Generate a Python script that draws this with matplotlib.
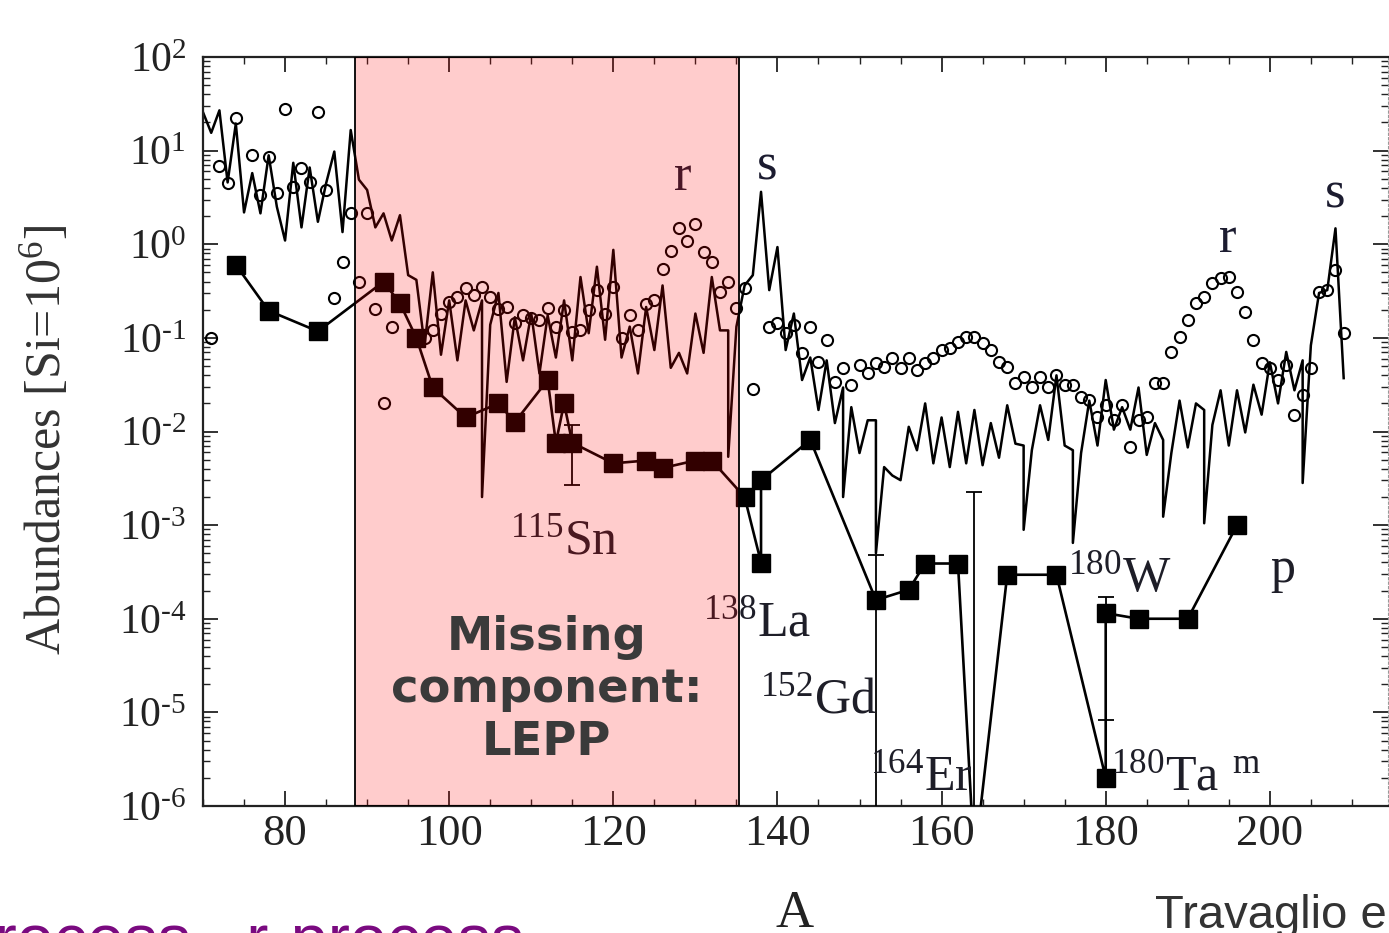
import numpy as np
import matplotlib
matplotlib.use("Agg")
import matplotlib.pyplot as plt
from matplotlib.ticker import MultipleLocator, LogLocator, FixedLocator, FuncFormatter, NullFormatter

plt.rcParams['font.family'] = ['Liberation Serif', 'DejaVu Serif']
plt.rcParams['mathtext.fontset'] = 'custom'
plt.rcParams['mathtext.rm'] = 'Liberation Serif'
plt.rcParams['mathtext.it'] = 'Liberation Serif:italic'
plt.rcParams['mathtext.bf'] = 'Liberation Serif:bold'

# s-process contribution (solid line), log10 of abundance, Si = 1e6
# where two isobars share one A the line drops straight down to the second one
s_A = [70, 71, 72, 73, 74, 75, 76, 77, 78, 79, 80, 81, 82, 83, 84, 85, 86, 87, 88, 89,
       90, 91, 92, 93, 94, 95, 96, 97, 98, 99, 100, 101, 102, 103, 104, 104, 105, 106, 107, 108,
       109, 110, 111, 112, 113, 114, 115, 116, 117, 118, 119, 120, 121, 122, 123, 124, 125, 126, 127, 128,
       129, 130, 131, 132, 133, 134, 134, 135, 136, 137, 138, 139, 140, 141, 142, 143, 144, 145, 146, 147,
       148, 148, 149, 150, 151, 152, 152, 153, 154, 155, 156, 157, 158, 159, 160, 161, 162, 163, 164, 165,
       166, 167, 168, 169, 170, 170, 171, 172, 173, 174, 175, 176, 176, 177, 178, 179, 180, 181, 182, 183,
       184, 185, 186, 187, 187, 188, 189, 190, 191, 192, 192, 193, 194, 195, 196, 197, 198, 199, 200, 201,
       202, 203, 204, 204, 205, 206, 207, 208, 209]
s_log = [1.41, 1.19, 1.43, 0.66, 1.29, 0.34, 0.76, 0.33, 0.95, 0.40, 0.04, 0.87, 0.18, 0.82, 0.24, 0.65, 0.99, 0.13, 1.22, 0.69,
         0.58, 0.18, 0.33, 0.04, 0.31, -0.33, -0.38, -1.08, -0.30, -1.18, -0.60, -1.24, -0.60, -0.92, -0.60, -2.70, -0.86, -0.52, -1.47, -0.78,
         -1.24, -0.74, -1.38, -0.76, -1.21, -0.60, -1.24, -0.35, -0.95, -0.24, -1.02, -0.06, -1.21, -0.88, -1.38, -0.67, -1.13, -0.44, -1.32, -1.16,
         -1.38, -0.74, -1.16, -0.35, -0.92, -0.92, -2.27, -0.88, -0.44, -0.33, 0.56, -0.49, -0.03, -1.13, -0.74, -1.45, -1.21, -1.77, -1.24, -1.91,
         -1.53, -2.70, -1.74, -2.23, -1.88, -1.88, -3.30, -2.38, -2.47, -2.52, -1.95, -2.20, -1.70, -2.34, -1.85, -2.38, -1.79, -2.34, -1.77, -2.36,
         -1.91, -2.28, -1.72, -2.13, -2.15, -3.05, -2.20, -1.72, -2.09, -1.40, -2.15, -2.20, -3.19, -2.23, -1.67, -2.15, -1.45, -1.98, -1.74, -1.98,
         -1.53, -2.25, -1.91, -2.09, -2.91, -2.23, -1.67, -2.17, -1.70, -1.77, -2.98, -1.93, -1.56, -2.15, -1.56, -2.01, -1.50, -1.82, -1.26, -1.70,
         -1.15, -1.56, -1.24, -2.55, -1.08, -0.52, -0.49, 0.17, -1.43]

# r-process residuals (open circles)
r_A = [71, 72, 73, 74, 76, 77, 78, 79, 80, 81, 82, 83, 84, 85, 86, 87, 88, 89, 90, 91,
       92, 93, 97, 98, 99, 100, 101, 102, 103, 104, 105, 106, 107, 108, 109, 110, 111, 112, 113, 114,
       115, 116, 117, 118, 119, 120, 121, 122, 123, 124, 125, 126, 127, 128, 129, 130, 131, 132, 133, 134,
       135, 136, 137, 139, 140, 141, 142, 143, 144, 145, 146, 147, 148, 149, 150, 151, 152, 153, 154, 155,
       156, 157, 158, 159, 160, 161, 162, 163, 164, 165, 166, 167, 168, 169, 170, 171, 172, 173, 174, 175,
       176, 177, 178, 179, 180, 181, 182, 183, 184, 185, 186, 187, 188, 189, 190, 191, 192, 193, 194, 195,
       196, 197, 198, 199, 200, 201, 202, 203, 204, 205, 206, 207, 208, 209]
r_log = [-1.00, 0.84, 0.65, 1.35, 0.95, 0.53, 0.93, 0.55, 1.44, 0.61, 0.81, 0.66, 1.41, 0.58, -0.57, -0.19, 0.33, -0.40, 0.33, -0.69,
         -1.70, -0.88, -1.00, -0.92, -0.74, -0.62, -0.56, -0.47, -0.54, -0.46, -0.56, -0.69, -0.67, -0.84, -0.76, -0.79, -0.81, -0.68, -0.88, -0.70,
         -0.94, -0.92, -0.70, -0.49, -0.74, -0.46, -1.00, -0.76, -0.92, -0.64, -0.60, -0.26, -0.07, 0.17, 0.04, 0.22, -0.08, -0.19, -0.51, -0.40,
         -0.68, -0.47, -1.55, -0.88, -0.84, -0.95, -0.86, -1.16, -0.88, -1.26, -1.02, -1.47, -1.32, -1.50, -1.29, -1.37, -1.27, -1.31, -1.21, -1.32,
         -1.22, -1.34, -1.27, -1.22, -1.13, -1.11, -1.04, -0.99, -0.99, -1.06, -1.13, -1.26, -1.31, -1.48, -1.42, -1.53, -1.42, -1.53, -1.40, -1.50,
         -1.50, -1.63, -1.66, -1.85, -1.72, -1.88, -1.72, -2.17, -1.88, -1.85, -1.48, -1.48, -1.15, -0.99, -0.81, -0.63, -0.56, -0.41, -0.36, -0.35,
         -0.51, -0.72, -1.02, -1.27, -1.32, -1.45, -1.29, -1.82, -1.61, -1.32, -0.51, -0.49, -0.28, -0.95]

# p-nuclei (filled squares); 138La comes before 138Ce, 180Ta before 180W
p_A = [74, 78, 84, 92, 94, 96, 98, 102, 106, 108, 112, 113, 114, 115, 120, 124, 126, 130, 132, 136,
       138, 138, 144, 152, 156, 158, 162, 164, 168, 174, 180, 180, 184, 190, 196]
p_log = [-0.22, -0.71, -0.93, -0.40, -0.63, -1.00, -1.53, -1.85, -1.70, -1.90, -1.45, -2.12, -1.70, -2.12, -2.34, -2.31, -2.39, -2.31, -2.31, -2.70,
         -3.40, -2.52, -2.09, -3.80, -3.69, -3.41, -3.41, -6.60, -3.53, -3.53, -5.70, -3.94, -4.00, -4.00, -3.00]

# error bars on some p-nuclei (log10 of value, lower and upper end)
err_A = [115, 152, 164, 180]
err_log = [-2.12, -3.80, -6.60, -3.94]
err_lo = [-2.57, -7.50, -8.00, -5.08]
err_hi = [-1.93, -3.32, -2.65, -3.77]

lepp_lo, lepp_hi = 88.5, 135.3

# isotope labels: text, A, log10 position
iso_labels = [(r'$^{115}$Sn', 107.4, -3.30),
              (r'$^{138}$La', 130.9, -4.18),
              (r'$^{152}$Gd', 137.9, -5.00),
              (r'$^{164}$Er', 151.3, -5.83),
              (r'$^{180}$W', 175.4, -3.70),
              (r'$^{180}$Ta$^{\;\;\mathrm{m}}$', 180.7, -5.83),
              ('p', 200.0, -3.61)]
peak_labels = [('r', 128.5, 0.58), ('s', 138.8, 0.69), ('r', 194.9, -0.08), ('s', 207.9, 0.39)]

fig = plt.figure(figsize=(13.89, 9.33), dpi=100)
ax = fig.add_axes([203 / 1389, 1 - 806 / 933, (1388 - 203) / 1389, (806 - 57) / 933])

ax.plot(s_A, 10 ** np.array(s_log), color='black', lw=1.8, zorder=2)
ax.plot(r_A, 10 ** np.array(r_log), 'o', mfc='none', mec='black', ms=8, mew=1.5, zorder=3)
ax.plot(p_A, 10 ** np.array(p_log), '-s', color='black', lw=1.9, ms=13, zorder=3)

ev = 10 ** np.array(err_log)
yerr = [ev - 10 ** np.array(err_lo), 10 ** np.array(err_hi) - ev]
ax.errorbar(err_A, ev, yerr=yerr, fmt='none', ecolor='black', elinewidth=1.3, capsize=6, capthick=1.3, zorder=3)

ax.axvspan(lepp_lo, lepp_hi, facecolor=(1, 0, 0, 0.2), edgecolor='black', lw=1.3, zorder=5)

for txt, a, lg in iso_labels:
    ax.text(a, 10 ** lg, txt, fontsize=36, color='#1e1e28', ha='left', va='baseline', zorder=4)
for txt, a, lg in peak_labels:
    ax.text(a, 10 ** lg, txt, fontsize=38, color='#1c1c30', ha='center', va='baseline', zorder=4)

ax.text((lepp_lo + lepp_hi) / 2, 10 ** -4.76, 'Missing\ncomponent:\nLEPP', fontsize=33.5,
        fontfamily='DejaVu Sans', fontweight='bold', color='#3a3a3a', ha='center', va='center',
        linespacing=1.22, zorder=6)

ax.set_xlim(70, 214.4)
ax.set_yscale('log')
ax.set_ylim(1e-6, 1e2)

ax.xaxis.set_major_locator(FixedLocator([80, 100, 120, 140, 160, 180, 200]))
ax.xaxis.set_minor_locator(MultipleLocator(5))
ax.yaxis.set_major_locator(FixedLocator([10.0 ** e for e in range(-6, 3)]))
ax.yaxis.set_minor_locator(LogLocator(base=10, subs=np.arange(2, 10), numticks=20))
ax.yaxis.set_minor_formatter(NullFormatter())


def exp_label(v, pos):
    e = int(round(np.log10(v)))
    if e < 0:
        return r'$10^{\text{-}%d}$' % (-e)
    return r'$10^{%d}$' % e


ax.yaxis.set_major_formatter(FuncFormatter(exp_label))
ax.tick_params(which='both', direction='in', top=True, right=True, colors='#222222')
ax.tick_params(which='major', length=11, width=1.3)
ax.tick_params(which='minor', length=5, width=1.0)
ax.tick_params(axis='x', which='major', labelsize=32, pad=6)
ax.tick_params(axis='y', which='major', labelsize=30, pad=12)

for side in ['left', 'bottom', 'top']:
    ax.spines[side].set_linewidth(1.6)
    ax.spines[side].set_color('#222222')
ax.spines['right'].set_color('#999999')
ax.spines['right'].set_linestyle((0, (2, 2)))

fig.text(45 / 1389, 1 - 440 / 933, 'Abundances [Si=10$^6$]', rotation=90, fontsize=36,
         color='#333333', ha='center', va='center')
fig.text(795 / 1389, 1 - 927 / 933, 'A', fontsize=38, color='#222222', ha='center', va='baseline')
fig.text(1155 / 1389, 1 - 928 / 933, 'Travaglio e', fontsize=34, fontfamily='Liberation Sans',
         color='#333333', ha='left', va='baseline')
fig.text(-98 / 1389, -28 / 933, 's-process,  r-process', fontsize=48, fontfamily='Liberation Sans',
         color='#7a0a80', ha='left', va='baseline')

fig.savefig('out.png', dpi=100)
